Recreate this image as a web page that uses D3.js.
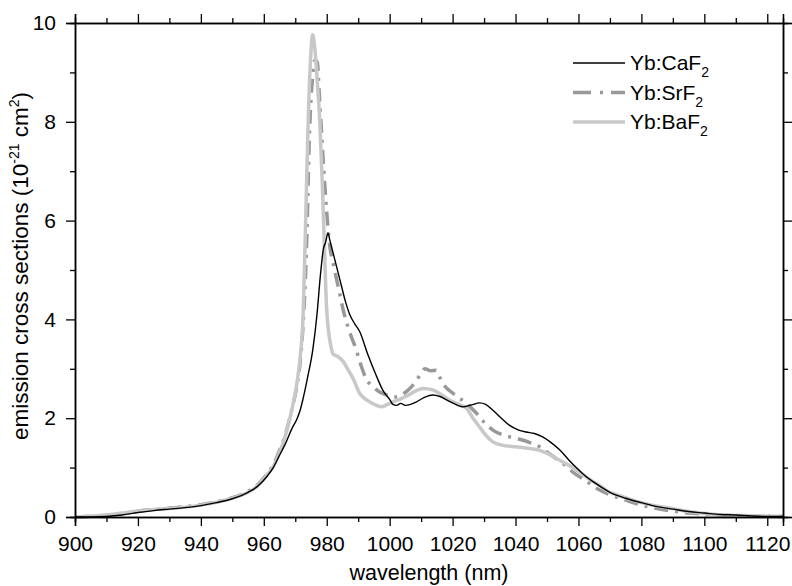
<!DOCTYPE html>
<html>
<head>
<meta charset="utf-8">
<script src="https://cdn.jsdelivr.net/npm/d3@7"></script>
<style>
  body { margin: 0; background: #fff; }
  svg text { font-family: "Liberation Sans", Arial, sans-serif; fill: #000; }
</style>
</head>
<body>
<svg width="792" height="586"></svg>
<script>
// emission cross sections, [wavelength nm, 10^-21 cm^2]
const caF2 = [[900,0],[905,0],[910,0.01],[915,0.04],[920,0.09],[925,0.13],[930,0.16],[935,0.19],[940,0.23],[945,0.29],[950,0.37],[955,0.5],[958,0.62],[961,0.82],[963,1.0],[965,1.25],[967,1.5],[969,1.8],[970.5,1.98],[971.5,2.15],[972.5,2.4],[974,2.85],[975.6,3.4],[976.9,4.1],[978,4.9],[979,5.45],[979.6,5.55],[980.4,5.75],[981,5.6],[982,5.35],[984.2,4.8],[986,4.35],[987.3,4.1],[989,3.9],[990.5,3.75],[993,3.3],[995.5,2.9],[997.8,2.57],[1000,2.38],[1001,2.28],[1002.2,2.26],[1003.5,2.3],[1005,2.26],[1008.5,2.33],[1011,2.42],[1013.7,2.47],[1016,2.44],[1019,2.34],[1023.3,2.23],[1026,2.27],[1028.6,2.31],[1030.5,2.28],[1032.8,2.16],[1035.5,2.0],[1038,1.86],[1041,1.76],[1043.4,1.72],[1046,1.69],[1048.6,1.62],[1051,1.52],[1054,1.36],[1057,1.15],[1059.3,1.0],[1062,0.84],[1065,0.7],[1070,0.5],[1075,0.38],[1080,0.29],[1085,0.21],[1090,0.16],[1095,0.11],[1100,0.08],[1105,0.05],[1110,0.04],[1115,0.02],[1120,0.01],[1125,0.01]];

const srF2 = [[900,0],[905,0.01],[910,0.03],[915,0.07],[920,0.12],[925,0.15],[930,0.18],[935,0.21],[940,0.25],[945,0.31],[950,0.39],[955,0.52],[958,0.65],[961,0.87],[963,1.05],[965,1.35],[967,1.7],[969,2.2],[970.5,2.65],[971.5,3.1],[972.5,3.9],[973.5,5.3],[974.6,7.9],[975.5,8.9],[976.3,9.25],[977,9.2],[977.6,8.6],[978.3,7.85],[979.1,7.0],[979.9,6.25],[981,5.47],[982,5.15],[983,4.85],[984.2,4.5],[985.2,4.2],[987,3.8],[989.4,3.38],[991,3.05],[992.5,2.8],[994.5,2.65],[996.8,2.53],[999,2.47],[1002.1,2.43],[1004,2.48],[1006.4,2.6],[1008,2.72],[1009.6,2.87],[1011.2,3.0],[1013,2.96],[1014.8,2.97],[1016,2.82],[1017,2.7],[1020.2,2.5],[1024.4,2.3],[1027.6,2.1],[1030,1.92],[1032.8,1.76],[1036,1.66],[1040.3,1.59],[1044,1.52],[1047.7,1.42],[1051,1.27],[1055.1,1.08],[1058.2,0.91],[1062.4,0.73],[1066,0.57],[1070,0.45],[1075,0.34],[1080,0.24],[1085,0.17],[1090,0.12],[1095,0.08],[1100,0.06],[1110,0.03],[1125,0.01]];

const baF2 = [[900,0],[905,0.02],[910,0.04],[915,0.08],[920,0.12],[925,0.15],[930,0.17],[935,0.2],[940,0.24],[945,0.3],[950,0.38],[955,0.5],[958,0.63],[961,0.85],[963,1.02],[965,1.3],[967,1.68],[969,2.2],[970.5,2.7],[971.5,3.2],[972.5,4.1],[973.3,6.0],[974.1,8.0],[974.8,9.2],[975.5,9.76],[976.2,9.5],[977,8.8],[977.8,8.0],[978.5,6.9],[979.2,5.6],[979.9,4.3],[980.5,3.8],[981.2,3.5],[982,3.3],[983.5,3.25],[985.2,3.15],[986.8,2.98],[988.4,2.8],[990.5,2.5],[992,2.4],[993.7,2.33],[995.5,2.27],[997.4,2.23],[999,2.27],[1001,2.33],[1003.2,2.38],[1006,2.47],[1008.5,2.56],[1010.6,2.6],[1013.8,2.57],[1016.5,2.47],[1019,2.37],[1022,2.28],[1024.4,2.2],[1026.5,2.0],[1028.6,1.82],[1030.5,1.66],[1032.8,1.52],[1036,1.45],[1040.3,1.42],[1044,1.39],[1047.7,1.35],[1051,1.26],[1054,1.15],[1058.2,1.0],[1061.4,0.86],[1064,0.74],[1066.7,0.64],[1068.8,0.54],[1074,0.41],[1079.4,0.3],[1085,0.22],[1090,0.17],[1095,0.11],[1100.6,0.07],[1106,0.04],[1111,0.03],[1118,0.02],[1124.4,0.01]];

const xMajor = d3.range(900, 1121, 20);
const xMinor = d3.range(910, 1125, 20);
const yMajor = [0, 2, 4, 6, 8, 10];
const yMinor = [1, 3, 5, 7, 9];

const series = [
  { name: "Yb:SrF", data: srF2, color: "#999999", width: 3.5, dash: "14,7,3,7" },
  { name: "Yb:BaF", data: baF2, color: "#c8c8c8", width: 3.5, dash: null },
  { name: "Yb:CaF", data: caF2, color: "#000000", width: 1.4, dash: null }
];
const legendOrder = ["Yb:CaF", "Yb:SrF", "Yb:BaF"];

const svg = d3.select("svg");
const margin = { top: 23, right: 9, bottom: 69, left: 75 };
const width = +svg.attr("width") - margin.left - margin.right;
const height = +svg.attr("height") - margin.top - margin.bottom;

const g = svg.append("g").attr("transform", `translate(${margin.left},${margin.top})`);

const x = d3.scaleLinear().domain([900, 1125]).range([0, width]);
const y = d3.scaleLinear().domain([0, 10]).range([height, 0]);

// curves
const line = d3.line()
  .x(d => x(d[0]))
  .y(d => y(d[1]))
  .curve(d3.curveMonotoneX);

series.forEach(s => {
  g.append("path")
    .datum(s.data)
    .attr("fill", "none")
    .attr("stroke", s.color)
    .attr("stroke-width", s.width)
    .attr("stroke-dasharray", s.dash)
    .attr("stroke-linejoin", "round")
    .attr("d", line);
});

// axes
const fs = "21px";
const styleAxis = sel => {
  sel.selectAll("path.domain").attr("stroke", "#000").attr("stroke-width", 1.5);
  sel.selectAll(".tick line").attr("stroke", "#000").attr("stroke-width", 1.3);
  sel.selectAll("text").style("font-size", fs);
};

g.append("g").attr("transform", `translate(0,${height})`)
  .call(d3.axisBottom(x).tickValues(xMajor).tickSize(9).tickPadding(10).tickFormat(d3.format("d")))
  .call(styleAxis);
g.append("g").attr("transform", `translate(0,${height})`)
  .call(d3.axisBottom(x).tickValues(xMinor).tickSize(5).tickFormat(""))
  .call(styleAxis);
g.append("g")
  .call(d3.axisTop(x).tickValues(xMajor).tickSize(9).tickFormat(""))
  .call(styleAxis);
g.append("g")
  .call(d3.axisTop(x).tickValues(xMinor).tickSize(5).tickFormat(""))
  .call(styleAxis);

g.append("g")
  .call(d3.axisLeft(y).tickValues(yMajor).tickSize(9).tickPadding(10).tickFormat(d3.format("d")))
  .call(styleAxis);
g.append("g")
  .call(d3.axisLeft(y).tickValues(yMinor).tickSize(5).tickFormat(""))
  .call(styleAxis);
g.append("g").attr("transform", `translate(${width},0)`)
  .call(d3.axisRight(y).tickValues(yMajor).tickSize(9).tickFormat(""))
  .call(styleAxis);
g.append("g").attr("transform", `translate(${width},0)`)
  .call(d3.axisRight(y).tickValues(yMinor).tickSize(5).tickFormat(""))
  .call(styleAxis);

// axis titles
svg.append("text")
  .attr("x", margin.left + width / 2)
  .attr("y", 580)
  .attr("text-anchor", "middle")
  .style("font-size", "21.5px")
  .text("wavelength (nm)");

const yTitle = svg.append("text")
  .attr("transform", `translate(28,${margin.top + height / 2 - 4}) rotate(-90)`)
  .attr("text-anchor", "middle")
  .style("font-size", "22.5px");
yTitle.append("tspan").text("emission cross sections (10");
yTitle.append("tspan").attr("dy", -9).style("font-size", "14px").text("-21");
yTitle.append("tspan").attr("dy", 9).text(" cm");
yTitle.append("tspan").attr("dy", -9).style("font-size", "14px").text("2");
yTitle.append("tspan").attr("dy", 9).text(")");

// legend
const legend = svg.append("g").attr("transform", "translate(573,63)");
legendOrder.forEach((name, i) => {
  const s = series.find(d => d.name === name);
  const row = legend.append("g").attr("transform", `translate(0,${i * 29.5})`);
  row.append("line")
    .attr("x1", 0).attr("x2", 52)
    .attr("stroke", s.color)
    .attr("stroke-width", s.width)
    .attr("stroke-dasharray", s.dash ? "18,9,3,8" : null);
  const t = row.append("text")
    .attr("x", 57)
    .attr("y", 7)
    .style("font-size", fs);
  t.append("tspan").text(name);
  t.append("tspan").attr("dy", 7).style("font-size", "14px").text("2");
});
</script>
</body>
</html>
